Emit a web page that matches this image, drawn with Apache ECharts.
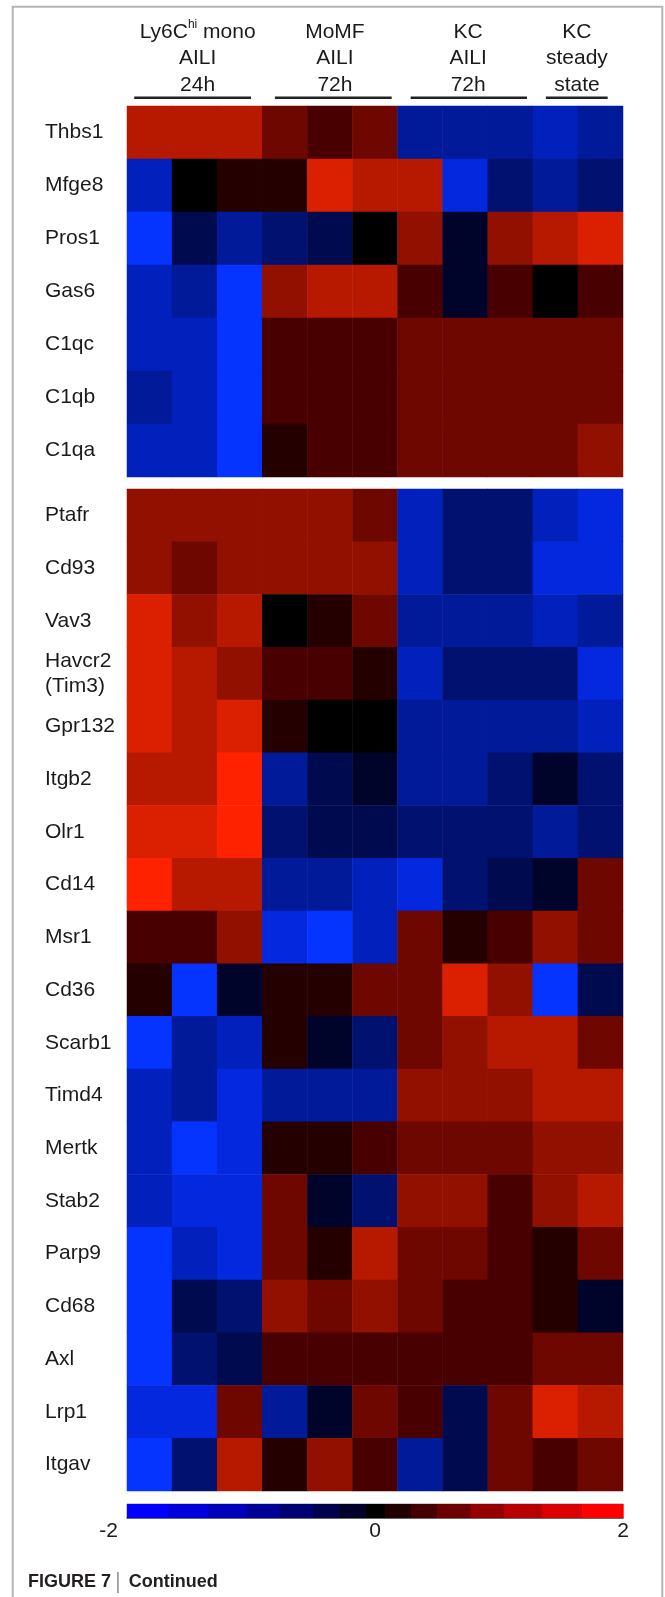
<!DOCTYPE html>
<html><head><meta charset="utf-8">
<script src="https://cdn.jsdelivr.net/npm/echarts@6/dist/echarts.min.js"></script>
<style>html,body{margin:0;padding:0;background:#fff}#c{width:665px;height:1597px}</style>
</head><body><div id="c"></div>
<script>
// ---------- data ----------
const samples = ['Ly6C-1','Ly6C-2','Ly6C-3','MoMF-1','MoMF-2','MoMF-3','KC-AILI-1','KC-AILI-2','KC-AILI-3','KC-SS-1','KC-SS-2'];
const groupLabels = [['Ly6C{sup|hi} mono','AILI','24h'],['MoMF','AILI','72h'],['KC','AILI','72h'],['KC','steady','state']];
const groupColumns = [[0,2],[3,5],[6,8],[9,10]];

const genesTop = ['Thbs1','Mfge8','Pros1','Gas6','C1qc','C1qb','C1qa'];
const valuesTop = [
  [1.2,1.2,1.2,0.65,0.4,0.65,-0.9,-0.9,-0.9,-1.2,-0.9],
  [-1.2,0,0.2,0.2,1.5,1.2,1.2,-1.5,-0.65,-0.9,-0.65],
  [-1.85,-0.4,-0.9,-0.65,-0.4,0,0.9,-0.2,0.9,1.2,1.5],
  [-1.2,-0.9,-1.85,0.9,1.2,1.2,0.4,-0.2,0.4,0,0.4],
  [-1.2,-1.2,-1.85,0.4,0.4,0.4,0.65,0.65,0.65,0.65,0.65],
  [-0.9,-1.2,-1.85,0.4,0.4,0.4,0.65,0.65,0.65,0.65,0.65],
  [-1.2,-1.2,-1.85,0.2,0.4,0.4,0.65,0.65,0.65,0.65,0.9]
];

const genesBottom = ['Ptafr','Cd93','Vav3','Havcr2\n(Tim3)','Gpr132','Itgb2','Olr1','Cd14','Msr1','Cd36','Scarb1','Timd4','Mertk','Stab2','Parp9','Cd68','Axl','Lrp1','Itgav'];
const valuesBottom = [
  [0.9,0.9,0.9,0.9,0.9,0.65,-1.2,-0.65,-0.65,-1.2,-1.5],
  [0.9,0.65,0.9,0.9,0.9,0.9,-1.2,-0.65,-0.65,-1.5,-1.5],
  [1.5,0.9,1.2,0,0.2,0.65,-0.9,-0.9,-0.9,-1.2,-0.9],
  [1.5,1.2,0.9,0.4,0.4,0.2,-1.2,-0.65,-0.65,-0.65,-1.5],
  [1.5,1.2,1.5,0.2,0,0,-0.9,-0.9,-0.9,-0.9,-1.2],
  [1.2,1.2,1.85,-0.9,-0.4,-0.2,-0.9,-0.9,-0.65,-0.2,-0.65],
  [1.5,1.5,1.85,-0.65,-0.4,-0.4,-0.65,-0.65,-0.65,-0.9,-0.65],
  [1.85,1.2,1.2,-0.9,-0.9,-1.2,-1.5,-0.65,-0.4,-0.2,0.65],
  [0.4,0.4,0.9,-1.5,-1.85,-1.2,0.65,0.2,0.4,0.9,0.65],
  [0.2,-1.85,-0.2,0.2,0.2,0.65,0.65,1.5,0.9,-1.85,-0.4],
  [-1.85,-0.9,-1.2,0.2,-0.2,-0.65,0.65,0.9,1.2,1.2,0.65],
  [-1.2,-0.9,-1.5,-0.9,-0.9,-0.9,0.9,0.9,0.9,1.2,1.2],
  [-1.2,-1.85,-1.5,0.2,0.2,0.4,0.65,0.65,0.65,0.9,0.9],
  [-1.2,-1.5,-1.5,0.65,-0.2,-0.65,0.9,0.9,0.4,0.9,1.2],
  [-1.85,-1.2,-1.5,0.65,0.2,1.2,0.65,0.65,0.4,0.2,0.65],
  [-1.85,-0.4,-0.65,0.9,0.65,0.9,0.65,0.4,0.4,0.2,-0.2],
  [-1.85,-0.65,-0.4,0.4,0.4,0.4,0.4,0.4,0.4,0.65,0.65],
  [-1.5,-1.5,0.65,-0.9,-0.2,0.65,0.4,-0.4,0.65,1.5,1.2],
  [-1.85,-0.65,1.2,0.2,0.9,0.4,-0.9,-0.4,0.65,0.4,0.65]
];

const scaleBreaks = [-2,-1.67,-1.35,-1.04,-0.77,-0.5,-0.29,-0.08,0.08,0.29,0.5,0.77,1.04,1.35,1.67,2];
const scaleTicks = [-2,0,2];
const cellColors = ['#0533ff','#0428dd','#0220bb','#011a99','#011170','#000b4f','#00042a','#000000','#240000','#480000','#6e0700','#921000','#b61800','#da2000','#ff2200'];
const scaleColors = ['#0000ff','#0000dd','#0000bb','#000096','#000072','#00004f','#00002b','#000000','#220000','#440000','#6c0000','#940000','#b80000','#dc0000','#ff0000'];
const caption = '{b|FIGURE 7}{bar||}{b|Continued}';

// ---------- layout ----------
const FONT = "'Liberation Sans', Arial, Helvetica, sans-serif";
const TXT = '#1a1a1a';
const LEFT = 127, WIDTH = 496;
const headerLineInset = [[0.16,0.25],[0.28,0.13],[0.29,0.13],[0.29,0.34]];
const headerTextShift = [3,5,3,-1];

function toCells(vals){
  const out = [];
  vals.forEach((row, r) => row.forEach((v, c) => out.push([c, r, v])));
  return out;
}
const pieces = cellColors.map((col, i) => i === cellColors.length - 1
  ? {gte: scaleBreaks[i], lte: scaleBreaks[i+1], color: col}
  : {gte: scaleBreaks[i], lt: scaleBreaks[i+1], color: col});

const yLabel = {
  align: 'left', margin: LEFT - 45, fontSize: 21, color: TXT, fontFamily: FONT, lineHeight: 25
};
const catX = (gi) => ({type:'category', gridIndex: gi, data: samples, show: false});
const catY = (gi, data) => ({type:'category', gridIndex: gi, data: data, inverse: true,
  axisLine:{show:false}, axisTick:{show:false}, axisLabel: yLabel, splitLine:{show:false}});

const chart = echarts.init(document.getElementById('c'), null, {renderer:'canvas'});
chart.setOption({
  animation: false,
  backgroundColor: '#fff',
  grid: [
    {left: LEFT, top: 106, width: WIDTH, height: 371},
    {left: LEFT, top: 489, width: WIDTH, height: 1002},
    {left: LEFT, top: 1504, width: WIDTH, height: 14, show: true, borderColor: '#999', borderWidth: 1}
  ],
  xAxis: [
    catX(0), catX(1),
    {type:'value', gridIndex: 2, min: -2, max: 2, interval: 2,
     axisLine:{show:true, lineStyle:{color:'#444', width:1.5}}, axisTick:{show:false}, splitLine:{show:false},
     axisLabel:{
       margin: 3, fontSize: 21, color: TXT, fontFamily: FONT,
       showMinLabel: true, showMaxLabel: true, alignMinLabel: 'right',
       formatter: v => v === scaleTicks[0] ? '{l|' + v + '}' : '{c|' + v + '}',
       rich: {l:{fontSize:21, fontFamily: FONT, color: TXT, padding:[0,9,0,0]}, c:{fontSize:21, fontFamily: FONT, color: TXT}}
     }}
  ],
  yAxis: [
    catY(0, genesTop), catY(1, genesBottom),
    {type:'value', gridIndex: 2, min: 0, max: 1, show: false}
  ],
  visualMap: {type:'piecewise', show: false, seriesIndex: [0,1], pieces: pieces, dimension: 2},
  series: [
    {type:'heatmap', xAxisIndex:0, yAxisIndex:0, data: toCells(valuesTop), itemStyle:{borderWidth:0}, emphasis:{disabled:true}},
    {type:'heatmap', xAxisIndex:1, yAxisIndex:1, data: toCells(valuesBottom), itemStyle:{borderWidth:0}, emphasis:{disabled:true}},
    {type:'custom', xAxisIndex:2, yAxisIndex:2, silent: true,
     data: scaleBreaks.slice(0,-1).map((b,i) => [b, scaleBreaks[i+1], i]),
     encode: {x:[0,1]},
     renderItem: function(params, api){
       const p0 = api.coord([api.value(0), 0]);
       const p1 = api.coord([api.value(1), 1]);
       return {type:'rect', shape:{x:p0[0], y:p1[1], width:p1[0]-p0[0]+0.6, height:p0[1]-p1[1]},
               style:{fill: scaleColors[api.value(2)]}};
     }, z: 1}
  ]
});

// headers positioned through the category axis scale
const colW = WIDTH / samples.length;
const graphics = [];
groupColumns.forEach((g, i) => {
  const xa = chart.convertToPixel({xAxisIndex:0}, samples[g[0]]) - colW/2;
  const xb = chart.convertToPixel({xAxisIndex:0}, samples[g[1]]) + colW/2;
  const cx = (xa + xb) / 2 + headerTextShift[i];
  graphics.push({type:'text', x: cx, y: 58.5, z: 10,
    style:{text: groupLabels[i].join('\n'), fill: TXT, font: '21px ' + FONT, align:'center', verticalAlign:'middle', lineHeight: 26.5,
      rich:{sup:{fontSize: 12, fontFamily: FONT, fill: TXT, verticalAlign:'top', lineHeight: 22}}}});
  graphics.push({type:'line', z: 10,
    shape:{x1: xa + headerLineInset[i][0]*colW, y1: 97.7, x2: xb - headerLineInset[i][1]*colW, y2: 97.7},
    style:{stroke:'#222', lineWidth: 2.5}});
});
graphics.push({type:'polyline', z: 10, shape:{points:[[12.7,1597],[12.7,6.7],[662.3,6.7],[662.3,1597]]},
  style:{stroke:'#b5b5b5', lineWidth: 2, fill: null}});
graphics.push({type:'text', x: 28, y: 1582, z: 10,
  style:{text: caption, align:'left', verticalAlign:'middle',
    rich:{b:{fontSize:18, fontWeight:'bold', fontFamily: FONT, fill:'#231f20'},
          bar:{fontSize:22, fontFamily: FONT, fill:'#9a9a9a', padding:[0,8,0,4]}}}});
chart.setOption({graphic: graphics});
</script>
</body></html>
